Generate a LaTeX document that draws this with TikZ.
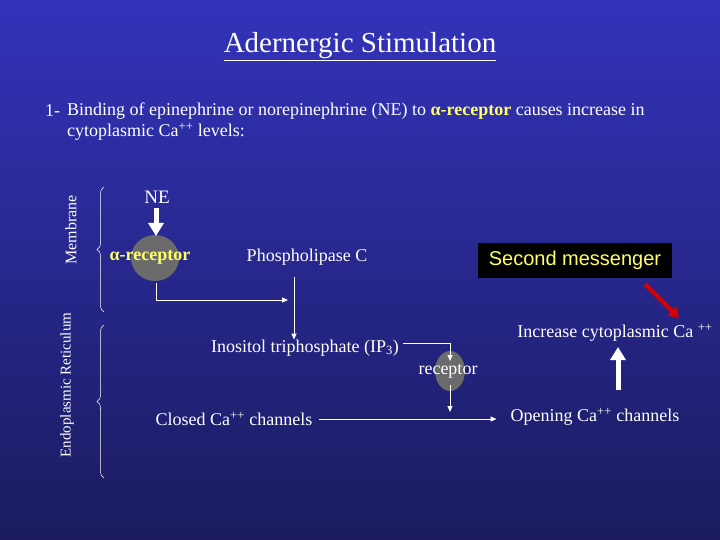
\documentclass[tikz,border=0pt]{standalone}
\usepackage{fontspec}
\setmainfont{Liberation Serif}
\newfontfamily\arialf{Liberation Sans}
\usetikzlibrary{decorations.pathreplacing,arrows.meta}
\definecolor{bgtop}{HTML}{3333BB}
\definecolor{bgbot}{HTML}{1B1B5E}
\definecolor{ylw}{HTML}{FFFF66}
\definecolor{blobc}{HTML}{6B6B6B}
\tikzset{
  lbl/.style={text=white,font=\fontsize{18}{21}\selectfont,inner sep=0pt},
  conn/.style={white,line width=1pt,-{Triangle[width=5pt,length=6pt]}},
  fat/.style={white,line width=5pt,-{Triangle[width=15pt,length=13pt]}},
  brc/.style={white,line width=0.5pt,decorate,decoration={brace,amplitude=7pt}},
}
\begin{document}
\begin{tikzpicture}[x=1pt,y=-1pt]
\shade[top color=bgtop,bottom color=bgbot] (0,0) rectangle (720,540);
\useasboundingbox (0,0) rectangle (720,540);
\node[lbl,font=\fontsize{29}{32}\selectfont] (title) at (360,47) {\underline{Adernergic Stimulation}};
\node[lbl,anchor=west] (n1) at (45,111) {1-};
\node[lbl,anchor=west,align=left] (t1) at (67,122) {Binding of epinephrine or norepinephrine (NE) to {\color{ylw}\bfseries α-receptor} causes increase in\\cytoplasmic Ca\textsuperscript{++} levels:};
\draw[brc] (104,312) -- (104,187);
\node[lbl,rotate=90,font=\fontsize{16}{18}\selectfont] (memb) at (71,230) {Membrane};
\draw[brc] (104,478) -- (104,325);
\node[lbl,rotate=90,font=\fontsize{15}{17}\selectfont] (er) at (67,385) {Endoplasmic Reticulum};
\node[lbl,font=\fontsize{19}{21}\selectfont] (ne) at (157,197) {NE};
\fill[blobc] (155,258) ellipse (24 and 23);
\node[lbl,text=ylw,font=\bfseries\fontsize{18}{20}\selectfont] (ar) at (150,257) {α-receptor};
\draw[fat] (156,208) -- (156,236);
\node[lbl] (plc) at (307,257) {Phospholipase C};
\coordinate (a1) at (156,283);
\coordinate (a2) at (288,300);
\draw[conn] (a1) |- (a2);
\node[lbl] (ip3) at (305,348) {Inositol triphosphate (IP\textsubscript{3})};
\draw[conn] (294,277) -- (ip3.north -| 294,0);
\fill[blobc] (450,371) ellipse (15 and 20);
\node[lbl] (rec) at (448,371) {receptor};
\draw[conn] (ip3.east) ++(4,-5) -| (450,361);
\draw[conn] (450,385) -- (450,412);
\node[lbl] (closed) at (234,419) {Closed Ca\textsuperscript{++} channels};
\node[lbl] (open) at (595,417) {Opening Ca\textsuperscript{++} channels};
\draw[conn] (closed.east) ++(6,0) -- ++(178,0);
\node[lbl] (inc) at (615,333) {Increase cytoplasmic Ca \textsuperscript{++}};
\draw[fat] (618,390) -- (618,347);
\node[fill=black,text=ylw,font=\arialf\fontsize{20}{22}\selectfont,minimum width=194pt,minimum height=35pt,inner sep=0pt] (sm) at (575,260) {Second messenger};
\draw[red!85!black,line width=4pt,-{Triangle[width=12pt,length=10pt]}] (645,284) -- (679,318);
\end{tikzpicture}
\end{document}
